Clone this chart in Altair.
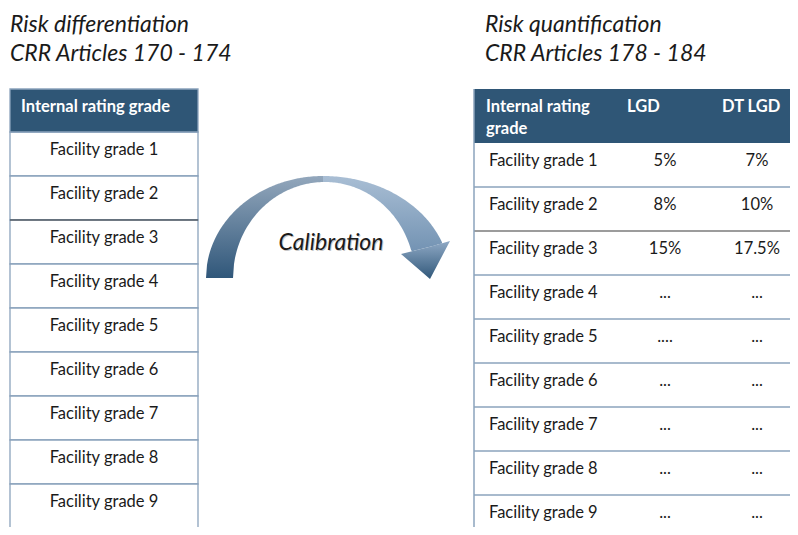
import altair as alt
import pandas as pd
import numpy as np

# ---- content ----
title_left = ["Risk differentiation", "CRR Articles 170 - 174"]
title_right = ["Risk quantification", "CRR Articles 178 - 184"]
left_header = ["Internal rating grade"]
right_header_col1 = ["Internal rating", "grade"]
right_header_cols = ["LGD", "DT LGD"]
grades = ["Facility grade 1", "Facility grade 2", "Facility grade 3",
          "Facility grade 4", "Facility grade 5", "Facility grade 6",
          "Facility grade 7", "Facility grade 8", "Facility grade 9"]
lgd = ["5%", "8%", "15%", "...", "....", "...", "...", "...", "..."]
dt_lgd = ["7%", "10%", "17.5%", "...", "...", "...", "...", "...", "..."]
arrow_label = ["Calibration"]

# ---- styling ----
FONT = "Lato"
HEAD = "#2f5676"
BORDER = "#8ba3bc"
DARK_LINE = "#3a3a3a"
TXT = "#1a1a1a"
ROW_H = 44
BODY_FS = 16.5
HEAD_FS = 16.5

X = lambda f="x": alt.X(f"{f}:Q", scale=alt.Scale(domain=[8, 790], nice=False, zero=False), axis=None)
Y = lambda f="y": alt.Y(f"{f}:Q", scale=alt.Scale(domain=[8, 527], nice=False, zero=False, reverse=True),
                        axis=None, stack=None)

layers = []

# ---- left table ----
L0, L1 = 10, 198
LH_TOP, LH_BOT = 89, 132
left_cells = pd.DataFrame(
    [{"x": L0, "x2": L1, "y": LH_BOT + ROW_H * i, "y2": LH_BOT + ROW_H * (i + 1)} for i in range(len(grades))]
)
layers.append(alt.Chart(left_cells).mark_rect(fill="white", stroke=BORDER, strokeWidth=1.3).encode(
    x=X(), x2="x2:Q", y=Y(), y2="y2:Q"))
left_head = pd.DataFrame([{"x": L0, "x2": L1, "y": LH_TOP, "y2": LH_BOT}])
layers.append(alt.Chart(left_head).mark_rect(fill=HEAD, stroke=BORDER, strokeWidth=1.3).encode(
    x=X(), x2="x2:Q", y=Y(), y2="y2:Q"))
layers.append(alt.Chart(pd.DataFrame([{"x": L0, "x2": L1, "y": LH_BOT + 2 * ROW_H}])).mark_rule(
    color=DARK_LINE, strokeWidth=1.2).encode(x=X(), x2="x2:Q", y=Y()))
layers.append(alt.Chart(pd.DataFrame({"x": [21], "y": [112], "t": left_header})).mark_text(
    align="left", baseline="alphabetic", font=FONT, fontSize=HEAD_FS, fontWeight="bold", color="white").encode(
    x=X(), y=Y(), text="t:N"))
layers.append(alt.Chart(pd.DataFrame({"x": [(L0 + L1) / 2] * len(grades),
                                      "y": [155 + ROW_H * i for i in range(len(grades))],
                                      "t": grades})).mark_text(
    align="center", baseline="alphabetic", font=FONT, fontSize=BODY_FS, color=TXT).encode(
    x=X(), y=Y(), text="t:N"))

# ---- right table ----
R0, R1 = 474, 800
RH_TOP, RH_BOT = 89, 143
layers.append(alt.Chart(pd.DataFrame([{"x": R0, "x2": R1, "y": RH_TOP, "y2": RH_BOT}])).mark_rect(
    fill=HEAD).encode(x=X(), x2="x2:Q", y=Y(), y2="y2:Q"))
row_lines = pd.DataFrame([{"x": R0, "x2": R1, "y": RH_BOT + ROW_H * k} for k in range(1, len(grades)) if k != 2])
layers.append(alt.Chart(row_lines).mark_rule(color=BORDER, strokeWidth=1.3).encode(x=X(), x2="x2:Q", y=Y()))
layers.append(alt.Chart(pd.DataFrame([{"x": R0, "x2": R1, "y": RH_BOT + 2 * ROW_H}])).mark_rule(
    color=DARK_LINE, strokeWidth=1.2).encode(x=X(), x2="x2:Q", y=Y()))
layers.append(alt.Chart(pd.DataFrame([{"x": R0, "y": RH_TOP, "y2": 540}])).mark_rule(
    color=BORDER, strokeWidth=1.5).encode(x=X(), y=Y(), y2="y2:Q"))
rh = pd.DataFrame({"x": [486, 486, 627, 722], "y": [112, 134, 112, 112],
                   "t": right_header_col1 + right_header_cols})
layers.append(alt.Chart(rh).mark_text(
    align="left", baseline="alphabetic", font=FONT, fontSize=HEAD_FS, fontWeight="bold", color="white").encode(
    x=X(), y=Y(), text="t:N"))
rows_y = [166 + ROW_H * i for i in range(len(grades))]
layers.append(alt.Chart(pd.DataFrame({"x": [489] * len(grades), "y": rows_y, "t": grades})).mark_text(
    align="left", baseline="alphabetic", font=FONT, fontSize=BODY_FS, color=TXT).encode(
    x=X(), y=Y(), text="t:N"))
vals = pd.DataFrame({"x": [665] * len(lgd) + [757] * len(dt_lgd), "y": rows_y + rows_y, "t": lgd + dt_lgd})
layers.append(alt.Chart(vals).mark_text(
    align="center", baseline="alphabetic", font=FONT, fontSize=BODY_FS, color=TXT).encode(
    x=X(), y=Y(), text="t:N"))

# ---- titles ----
titles = pd.DataFrame({"x": [10, 10, 485, 485], "y": [32, 61, 32, 61], "t": title_left + title_right})
layers.append(alt.Chart(titles).mark_text(
    align="left", baseline="alphabetic", font=FONT, fontSize=23, fontStyle="italic", color=TXT).encode(
    x=X(), y=Y(), text="t:N"))

# ---- curved arrow (shape geometry) ----
BASE = 278
def ell(x, cx, a, b):
    d = np.clip((x - cx) / a, -1, 1)
    return BASE - b * np.sqrt(1 - d ** 2)

def neck(x):
    return 254 - (x - 402) * 12 / 46

xl = np.unique(np.concatenate([np.arange(206, 324, 1.0), [233.0, 323.0]]))
left_arc = pd.DataFrame({
    "x": xl,
    "y": ell(xl, 323, 117, 102),
    "y2": np.where(xl < 233, BASE, ell(xl, 325, 92, 96)),
})
xr = np.unique(np.concatenate([np.arange(323, 443, 1.0), [411.0, 442.0]]))
right_arc = pd.DataFrame({
    "x": xr,
    "y": ell(xr, 323, 127, 102),
    "y2": np.where(xr <= 411, np.where(xr < 325, ell(xr, 325, 92, 96), ell(xr, 325, 90, 96)), neck(xr)),
})
head = pd.DataFrame({"x": [401.0, 430.0, 450.0], "y": [254.0, float(neck(430)), 241.0],
                     "y2": [254.0, 279.0, 241.0]})

def grad(top, bottom):
    return alt.Gradient(gradient="linear", x1=0, x2=0, y1=0, y2=1,
                        stops=[alt.GradientStop(color=top, offset=0),
                               alt.GradientStop(color=bottom, offset=1)])

layers.append(alt.Chart(left_arc).mark_area(color=grad("#93a7bc", "#30577a"), interpolate="linear").encode(
    x=X(), y=Y(), y2="y2:Q"))
layers.append(alt.Chart(right_arc).mark_area(color=grad("#a9bed4", "#7393b3"), interpolate="linear").encode(
    x=X(), y=Y(), y2="y2:Q"))
layers.append(alt.Chart(head).mark_area(color=grad("#8fa9c5", "#31587a"), interpolate="linear").encode(
    x=X(), y=Y(), y2="y2:Q"))

layers.append(alt.Chart(pd.DataFrame({"x": [332], "y": [244], "t": arrow_label})).mark_text(
    align="center", baseline="middle", font=FONT, fontSize=23, fontStyle="italic", color="#c8c8c8").encode(
    x=X(), y=Y(), text="t:N"))
layers.append(alt.Chart(pd.DataFrame({"x": [331], "y": [243], "t": arrow_label})).mark_text(
    align="center", baseline="middle", font=FONT, fontSize=23, fontStyle="italic", color=TXT).encode(
    x=X(), y=Y(), text="t:N"))

chart = alt.layer(*layers).properties(
    width=782, height=519, padding=0, autosize="none"
).configure_view(strokeWidth=0)

chart.save("out.html", embed_options={"renderer": "svg", "actions": False})
